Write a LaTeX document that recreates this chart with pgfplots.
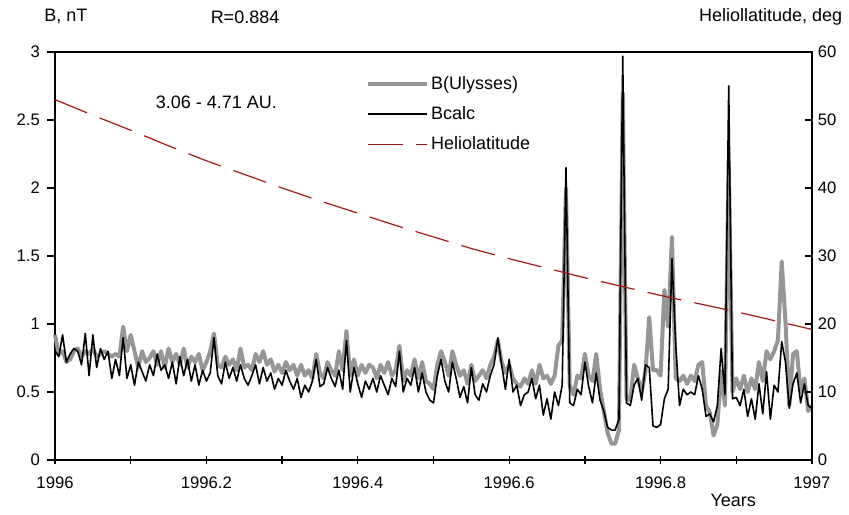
\documentclass[border=0pt]{standalone}
\usepackage{pgfplots}
\usepackage{pgfplotstable}
\usepackage{fontspec}
\setmainfont{Liberation Sans}
\pgfplotsset{compat=1.18}

\definecolor{bgray}{RGB}{150,150,150}
\definecolor{hred}{RGB}{160,25,25}

% year, B(Ulysses), Bcalc
\pgfplotstableread{
x B Bc
1996.000 0.92 0.80
1996.005 0.78 0.76
1996.010 0.80 0.92
1996.015 0.72 0.72
1996.020 0.74 0.78
1996.025 0.80 0.82
1996.030 0.82 0.80
1996.035 0.76 0.70
1996.040 0.80 0.93
1996.045 0.78 0.62
1996.050 0.82 0.92
1996.055 0.76 0.68
1996.060 0.78 0.82
1996.065 0.80 0.74
1996.070 0.78 0.80
1996.075 0.76 0.60
1996.080 0.78 0.74
1996.085 0.76 0.62
1996.090 0.98 0.90
1996.095 0.80 0.60
1996.100 0.92 0.70
1996.105 0.80 0.55
1996.110 0.68 0.72
1996.115 0.80 0.65
1996.120 0.72 0.58
1996.125 0.75 0.70
1996.130 0.80 0.62
1996.135 0.70 0.78
1996.140 0.80 0.66
1996.145 0.68 0.70
1996.150 0.82 0.60
1996.155 0.72 0.72
1996.160 0.78 0.56
1996.165 0.70 0.76
1996.170 0.82 0.62
1996.175 0.68 0.74
1996.180 0.76 0.58
1996.185 0.72 0.70
1996.190 0.78 0.55
1996.195 0.66 0.66
1996.200 0.72 0.58
1996.205 0.80 0.64
1996.210 0.93 0.90
1996.215 0.70 0.62
1996.220 0.68 0.56
1996.225 0.76 0.72
1996.230 0.70 0.60
1996.235 0.74 0.68
1996.240 0.66 0.58
1996.245 0.82 0.70
1996.250 0.68 0.60
1996.255 0.70 0.55
1996.260 0.66 0.62
1996.265 0.78 0.70
1996.270 0.72 0.56
1996.275 0.80 0.68
1996.280 0.70 0.58
1996.285 0.74 0.64
1996.290 0.65 0.52
1996.295 0.70 0.60
1996.300 0.64 0.55
1996.305 0.72 0.66
1996.310 0.66 0.58
1996.315 0.70 0.52
1996.320 0.62 0.60
1996.325 0.70 0.46
1996.330 0.62 0.55
1996.335 0.66 0.50
1996.340 0.60 0.58
1996.345 0.78 0.74
1996.350 0.64 0.54
1996.355 0.60 0.56
1996.360 0.72 0.68
1996.365 0.66 0.60
1996.370 0.62 0.54
1996.375 0.80 0.66
1996.380 0.66 0.52
1996.385 0.95 0.88
1996.390 0.62 0.50
1996.395 0.74 0.68
1996.400 0.62 0.56
1996.405 0.70 0.46
1996.410 0.64 0.58
1996.415 0.70 0.52
1996.420 0.68 0.60
1996.425 0.60 0.50
1996.430 0.70 0.62
1996.435 0.64 0.55
1996.440 0.72 0.48
1996.445 0.62 0.60
1996.450 0.66 0.54
1996.455 0.84 0.80
1996.460 0.58 0.50
1996.465 0.66 0.60
1996.470 0.62 0.55
1996.475 0.74 0.68
1996.480 0.60 0.50
1996.485 0.72 0.64
1996.490 0.58 0.50
1996.495 0.56 0.44
1996.500 0.52 0.42
1996.505 0.70 0.62
1996.510 0.80 0.74
1996.515 0.72 0.58
1996.520 0.62 0.50
1996.525 0.80 0.72
1996.530 0.70 0.60
1996.535 0.62 0.46
1996.540 0.66 0.54
1996.545 0.56 0.42
1996.550 0.70 0.68
1996.555 0.58 0.48
1996.560 0.62 0.44
1996.565 0.66 0.56
1996.570 0.60 0.50
1996.575 0.70 0.62
1996.580 0.76 0.70
1996.585 0.88 0.90
1996.590 0.72 0.70
1996.595 0.64 0.52
1996.600 0.70 0.74
1996.605 0.60 0.50
1996.610 0.56 0.55
1996.615 0.54 0.40
1996.620 0.60 0.48
1996.625 0.56 0.50
1996.630 0.66 0.60
1996.635 0.56 0.45
1996.640 0.70 0.55
1996.645 0.60 0.33
1996.650 0.62 0.45
1996.655 0.56 0.30
1996.660 0.62 0.50
1996.665 0.84 0.40
1996.670 0.88 0.55
1996.675 2.00 2.15
1996.680 0.55 0.42
1996.685 0.48 0.40
1996.690 0.62 0.52
1996.695 0.60 0.48
1996.700 0.78 0.72
1996.705 0.62 0.54
1996.710 0.58 0.42
1996.715 0.78 0.64
1996.720 0.52 0.44
1996.725 0.36 0.36
1996.730 0.20 0.24
1996.735 0.12 0.22
1996.740 0.12 0.22
1996.745 0.22 0.30
1996.750 2.70 2.97
1996.755 0.45 0.42
1996.760 0.44 0.40
1996.765 0.70 0.55
1996.770 0.60 0.60
1996.775 0.50 0.44
1996.780 0.65 0.70
1996.785 1.05 0.68
1996.790 0.66 0.25
1996.795 0.66 0.24
1996.800 0.62 0.26
1996.805 1.25 0.45
1996.810 0.98 0.52
1996.815 1.64 1.48
1996.820 0.60 0.85
1996.825 0.58 0.40
1996.830 0.62 0.52
1996.835 0.56 0.48
1996.840 0.62 0.50
1996.845 0.58 0.48
1996.850 0.70 0.62
1996.855 0.72 0.52
1996.860 0.40 0.32
1996.865 0.35 0.34
1996.870 0.18 0.28
1996.875 0.26 0.40
1996.880 0.65 0.82
1996.885 0.40 0.48
1996.890 2.20 2.75
1996.895 0.50 0.45
1996.900 0.60 0.46
1996.905 0.52 0.40
1996.910 0.62 0.52
1996.915 0.50 0.32
1996.920 0.60 0.45
1996.925 0.52 0.30
1996.930 0.72 0.56
1996.935 0.58 0.34
1996.940 0.80 0.65
1996.945 0.74 0.30
1996.950 0.80 0.55
1996.955 0.88 0.50
1996.960 1.46 0.87
1996.965 1.02 0.72
1996.970 0.40 0.38
1996.975 0.78 0.56
1996.980 0.80 0.64
1996.985 0.50 0.42
1996.990 0.60 0.56
1996.995 0.36 0.40
1997.000 0.40 0.38
}\bdata

% heliolatitude, deg
\pgfplotstableread{
x lat
1996.00 53.0
1996.05 50.7
1996.10 48.5
1996.15 46.2
1996.20 44.0
1996.25 42.0
1996.30 40.0
1996.35 38.1
1996.40 36.3
1996.45 34.5
1996.50 32.8
1996.55 31.1
1996.60 29.6
1996.65 28.2
1996.70 26.8
1996.75 25.5
1996.80 24.2
1996.85 23.0
1996.90 21.8
1996.95 20.5
1997.00 19.2
}\latdata

\newcommand{\tickfont}{\fontsize{12.5}{15}\selectfont}
\newcommand{\labfont}{\fontsize{13.5}{16}\selectfont}

\begin{document}
\tickfont
\begin{tikzpicture}
\begin{axis}[
    scale only axis,
    width=567.75pt, height=306pt,
    xmin=1996, xmax=1997,
    ymin=0, ymax=3,
    clip=false,
    axis line style={line width=1.1pt},
    xtick={1996,1996.2,1996.4,1996.6,1996.8,1997},
    xticklabels={1996,1996.2,1996.4,1996.6,1996.8,1997},
    minor xtick={1996.1,1996.3,1996.5,1996.7,1996.9},
    ytick={0,0.5,1,1.5,2,2.5,3},
    yticklabels={0,0.5,1,1.5,2,2.5,3},
    xtick pos=bottom, ytick pos=left,
    xtick align=center, ytick align=outside,
    major tick length=6pt, minor tick length=6pt,
    tick style={line width=1pt, black},
    xticklabel style={yshift=-5pt},
    yticklabel style={xshift=-1pt},
    legend style={draw=none, fill=none, at={(rel axis cs:0.405,0.955)},
        anchor=north west, row sep=7pt, font=\labfont,
        legend cell align=left},
    legend image code/.code={\draw[#1] (0pt,0pt) -- (44pt,0pt);},
]
\addplot[bgray, line width=3pt, line join=round] table[x=x, y=B] {\bdata};
\addlegendentry{B(Ulysses)}
\addplot[black, line width=1.2pt, line join=round] table[x=x, y=Bc] {\bdata};
\addlegendentry{Bcalc}
\addlegendimage{hred, line width=0.9pt, dash pattern=on 26pt off 10pt}
\addlegendentry{Heliolatitude}

\node[anchor=west, font=\labfont] at (rel axis cs:0.1255,0.877) {3.06 - 4.71 AU.};
\node[font=\labfont] at (rel axis cs:0.0145,1.086) {B, nT};
\node[font=\labfont] at (rel axis cs:0.251,1.086) {R=0.884};
\node[anchor=east, font=\labfont] at (rel axis cs:1.0476,1.086) {Heliollatitude, deg};
\node[font=\labfont] at (rel axis cs:0.896,-0.098) {Years};
\path (rel axis cs:-0.0727,-0.1324) rectangle (rel axis cs:1.0489,1.1275);
\end{axis}

\begin{axis}[
    scale only axis,
    width=567.75pt, height=306pt,
    xmin=1996, xmax=1997,
    ymin=0, ymax=60,
    axis x line=none,
    axis y line*=right,
    axis line style={line width=1.1pt},
    ytick={0,10,20,30,40,50,60},
    yticklabels={0,10,20,30,40,50,60},
    ytick align=inside,
    major tick length=5pt,
    tick style={line width=1pt, black},
]
\addplot[hred, line width=0.9pt, dash pattern=on 26pt off 10pt] table[x=x, y=lat] {\latdata};
\end{axis}
\end{tikzpicture}
\end{document}
